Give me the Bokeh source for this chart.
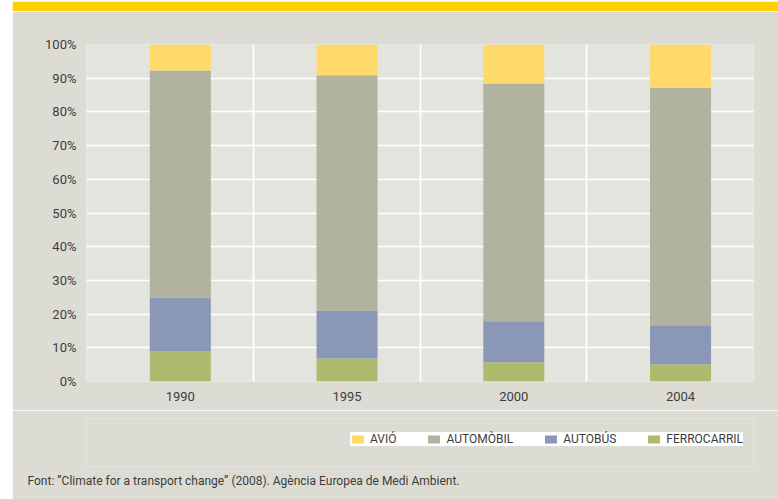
from bokeh.plotting import figure
from bokeh.models import (FixedTicker, NumeralTickFormatter, Legend, LegendItem,
                          Range1d, ColumnDataSource, Title, Spacer)
from bokeh.layouts import row, column
from bokeh.embed import file_html
from bokeh.resources import INLINE

# ---- data (shares of passenger transport, %) ----
years = ["1990", "1995", "2000", "2004"]
ferrocarril = [8.9, 6.8, 5.7, 5.1]
autobus = [16.0, 14.3, 12.2, 11.6]
automobil = [67.4, 69.8, 70.5, 70.5]
avio = [7.7, 9.1, 11.6, 12.8]

series_names = ["ferrocarril", "autobus", "automobil", "avio"]
series_labels = ["FERROCARRIL", "AUTOBÚS", "AUTOMÒBIL", "AVIÓ"]
series_colors = ["#aebb6e", "#8a97b7", "#b2b2a0", "#ffd96a"]
source_note = "Font: \u201dClimate for a transport change\u201d (2008). Agència Europea de Medi Ambient."

OUTER = "#dcdcd4"
PLOT_BG = "#e4e4df"
TXT = "#3c3c3c"
FONT = "Roboto"
W = 766

# ---- top yellow band ----
band = figure(width=W, height=11, output_backend="svg", toolbar_location=None,
              x_axis_type=None, y_axis_type=None,
              min_border_left=0, min_border_right=0, min_border_top=10, min_border_bottom=0)
band.border_fill_color = "#ffd000"
band.background_fill_color = "#f3edc8"
band.outline_line_color = None

# ---- main chart ----
xs = [i + 0.5625 for i in range(len(years))]
src = ColumnDataSource(dict(
    x=xs,
    ferrocarril=[v / 100 for v in ferrocarril],
    autobus=[v / 100 for v in autobus],
    automobil=[v / 100 for v in automobil],
    avio=[v / 100 for v in avio],
))

p = figure(width=W, height=399, output_backend="svg", toolbar_location=None,
           x_range=Range1d(0, len(years)), y_range=Range1d(0, 1),
           min_border_left=74, min_border_right=25, min_border_top=33,
           min_border_bottom=29)
p.background_fill_color = PLOT_BG
p.border_fill_color = OUTER
p.outline_line_color = None

p.vbar_stack(series_names, x="x", width=0.366, source=src,
             color=series_colors, line_color=None)

p.ygrid.ticker = FixedTicker(ticks=[i / 10 for i in range(11)])
p.xgrid.ticker = FixedTicker(ticks=list(range(len(years) + 1)))
for g in (p.xgrid, p.ygrid):
    g.grid_line_color = "white"
    g.grid_line_width = 1.6
    g.level = "image"

p.yaxis.ticker = FixedTicker(ticks=[i / 10 for i in range(11)])
p.yaxis.formatter = NumeralTickFormatter(format="0%")
p.xaxis.ticker = FixedTicker(ticks=xs)
p.xaxis.major_label_overrides = {x: y for x, y in zip(xs, years)}
for ax in (p.xaxis, p.yaxis):
    ax.axis_line_color = None
    ax.major_tick_line_color = None
    ax.minor_tick_line_color = None
    ax.major_tick_in = 0
    ax.major_tick_out = 0
    ax.major_label_text_font = FONT
    ax.major_label_text_font_size = "13px"
    ax.major_label_text_color = TXT
p.yaxis.major_label_standoff = 10
p.xaxis.major_label_standoff = 10

# ---- bottom strip: legend + source note ----
foot = figure(width=W, height=89, output_backend="svg", toolbar_location=None,
              x_axis_type=None, y_axis_type=None,
              x_range=Range1d(0, len(years)), y_range=Range1d(0, 1),
              min_border_left=74, min_border_right=25, min_border_top=8, min_border_bottom=33)
foot.background_fill_color = OUTER
foot.border_fill_color = OUTER
foot.outline_line_color = None

# legend proxies (hidden copies of the stacked bars)
proxies = foot.vbar_stack(series_names, x="x", width=0.366, source=src,
                          color=series_colors, line_color=None)
for r in proxies:
    r.visible = False

order = [3, 2, 1, 0]  # AVIÓ, AUTOMÒBIL, AUTOBÚS, FERROCARRIL
items = [LegendItem(label=series_labels[i], renderers=[proxies[i]]) for i in order]
legend = Legend(items=items, orientation="horizontal", location=(264, 20),
                background_fill_color="white", background_fill_alpha=1.0,
                border_line_color=None, label_text_font=FONT,
                label_text_font_size="12px", label_text_color=TXT,
                glyph_width=15, glyph_height=10, label_height=10,
                label_standoff=5, spacing=30, padding=8, margin=0,
                inactive_fill_alpha=0.0)
foot.add_layout(legend, "center")

note = Title(text=source_note, align="left", offset=-59,
             text_font=FONT, text_font_size="12px", text_color=TXT,
             text_font_style="normal")
foot.add_layout(note, "below")

layout = row(Spacer(width=12, height=499), column(band, p, foot, spacing=0), spacing=0)

open("out.html", "w").write(file_html(layout, INLINE))
